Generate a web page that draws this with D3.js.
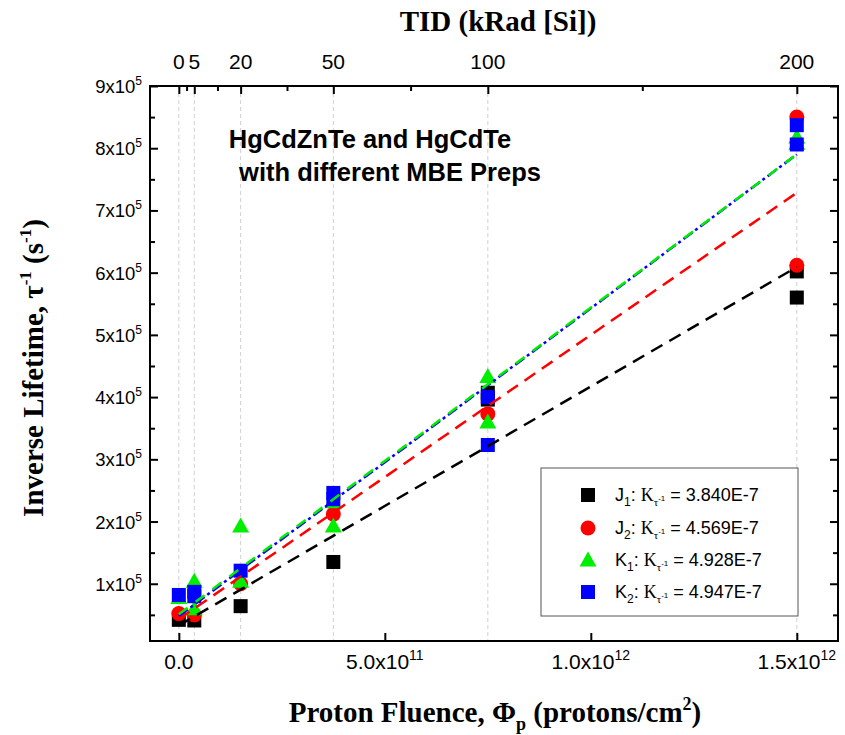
<!DOCTYPE html>
<html><head><meta charset="utf-8">
<script src="https://cdn.jsdelivr.net/npm/d3@7"></script>
<style>body{margin:0;background:#fff}</style>
</head><body><svg id="c" width="845" height="735"></svg>
<script>
// ---- data ----
const tidLevels = [0, 5, 20, 50, 100, 200];            // kRad[Si]
const tidMinor = [2.5, 12.5, 35, 75, 150];
const fluencePerKrad = 7.5e9;                            // protons/cm2 per kRad
const xTickValues = [0, 5e11, 1e12, 1.5e12];
const xTickLabels = [["0.0", ""], ["5.0x10", "11"], ["1.0x10", "12"], ["1.5x10", "12"]];
const yTickValues = [100000, 200000, 300000, 400000, 500000, 600000, 700000, 800000, 900000];
const yTickMant = ["1", "2", "3", "4", "5", "6", "7", "8", "9"];
const yMinorValues = [50000, 150000, 250000, 350000, 450000, 550000, 650000, 750000, 850000];

// points: [TID kRad, inverse lifetime s^-1]
const J1 = [[0, 42000], [5, 41000], [20, 64000], [50, 135000], [100, 407000], [100, 396000], [200, 602000], [200, 560000]];
const J2 = [[0, 52000], [5, 50000], [20, 100000], [50, 212000], [100, 373000], [200, 850000], [200, 612000]];
const K1 = [[0, 78000], [5, 104000], [5, 60000], [20, 193000], [20, 104000], [50, 232000], [50, 193000], [100, 433000], [100, 360000], [200, 818000], [200, 808000]];
const K2 = [[0, 82000], [5, 87000], [5, 80000], [20, 121000], [50, 246000], [50, 236000], [100, 400000], [100, 323000], [200, 837000], [200, 806000]];

const seriesNames = ["J", "J", "K", "K"];
const seriesSubs = ["1", "2", "1", "2"];
const slopes = [3.840e-7, 4.569e-7, 4.928e-7, 4.947e-7];
const slopeLabels = ["3.840E-7", "4.569E-7", "4.928E-7", "4.947E-7"];
const intercepts = [33000, 43000, 51000, 48000];
const colors = ["#000000", "#ff0000", "#00ee00", "#0000ff"];
const shapes = ["square", "circle", "triangle", "square"];
const fitRange = [0, 1.5e12];

// ---- layout ----
const svg = d3.select("#c");
const L = 150, R = 838, T = 86, B = 641;
const x = d3.scaleLinear().domain([-0.07e12, 1.6e12]).range([L, R]);
const y = d3.scaleLinear().domain([8000, 900000]).range([B, T]);
const xt = d3.scaleLinear().domain([0, 1]).range([x(0), x(fluencePerKrad)]);
const fx = v => x(v * fluencePerKrad);

// grid lines (TID)
svg.append("g").selectAll("line").data(tidLevels).join("line")
  .attr("x1", d => fx(d)).attr("x2", d => fx(d)).attr("y1", T).attr("y2", B)
  .attr("stroke", "#d0d0d0").attr("stroke-width", 1).attr("stroke-dasharray", "4,3");

// axes ticks (inward)
function ticks(axis, tr) {
  const g = svg.append("g").attr("transform", tr).call(axis);
  g.select(".domain").remove();
  g.selectAll("line").attr("stroke", "#000").attr("stroke-width", 2);
  g.selectAll("text").remove();
  return g;
}
ticks(d3.axisLeft(y).tickValues(yTickValues).tickSize(-8), `translate(${L},0)`);
ticks(d3.axisLeft(y).tickValues(yMinorValues).tickSize(-5), `translate(${L},0)`);
ticks(d3.axisRight(y).tickValues(yTickValues).tickSize(-8), `translate(${R},0)`);
ticks(d3.axisRight(y).tickValues(yMinorValues).tickSize(-5), `translate(${R},0)`);
ticks(d3.axisBottom(x).tickValues(xTickValues).tickSize(-8), `translate(0,${B})`);
ticks(d3.axisTop(xt).tickValues(tidLevels).tickSize(-8), `translate(0,${T})`);
ticks(d3.axisTop(xt).tickValues(tidMinor).tickSize(-5), `translate(0,${T})`);

// frame
svg.append("rect").attr("x", L).attr("y", T).attr("width", R - L).attr("height", B - T)
  .attr("fill", "none").attr("stroke", "#000").attr("stroke-width", 2);

// tick labels
const sans = "'Liberation Sans', Arial, sans-serif";
const narrow = "'Liberation Sans Narrow', 'Arial Narrow', 'Liberation Sans', sans-serif";
yTickValues.forEach((v, i) => {
  const t = svg.append("text").attr("x", L - 8).attr("y", y(v) + 7)
    .attr("text-anchor", "end").attr("font-family", sans).attr("font-size", 18.5);
  t.append("tspan").text(yTickMant[i] + "x10");
  t.append("tspan").attr("dy", -8).attr("font-size", 12).text("5");
});
xTickValues.forEach((v, i) => {
  const t = svg.append("text").attr("x", x(v)).attr("y", 669)
    .attr("text-anchor", "middle").attr("font-family", narrow).attr("font-size", 21);
  t.append("tspan").text(xTickLabels[i][0]);
  if (xTickLabels[i][1]) t.append("tspan").attr("dy", -9).attr("font-size", 14).text(xTickLabels[i][1]);
});
tidLevels.forEach(v => {
  svg.append("text").attr("x", fx(v)).attr("y", 69).attr("text-anchor", "middle")
    .attr("font-family", narrow).attr("font-size", 21).text(v);
});

// axis titles
const serif = "'Liberation Serif', 'Times New Roman', serif";
svg.append("text").attr("x", 498).attr("y", 31).attr("text-anchor", "middle")
  .attr("font-family", serif).attr("font-weight", "bold").attr("font-size", 29).text("TID (kRad [Si])");
const xl = svg.append("text").attr("x", 495).attr("y", 722).attr("text-anchor", "middle")
  .attr("font-family", serif).attr("font-weight", "bold").attr("font-size", 29);
xl.append("tspan").text("Proton Fluence, Φ");
xl.append("tspan").attr("dy", 8).attr("font-size", 18).text("p");
xl.append("tspan").attr("dy", -8).text(" (protons/cm");
xl.append("tspan").attr("dy", -12).attr("font-size", 18).text("2");
xl.append("tspan").attr("dy", 12).text(")");
const yl = svg.append("text").attr("transform", "translate(43,368) rotate(-90)").attr("text-anchor", "middle")
  .attr("font-family", serif).attr("font-weight", "bold").attr("font-size", 29);
yl.append("tspan").text("Inverse Lifetime, τ");
yl.append("tspan").attr("dy", -12).attr("font-size", 17).text("-1");
yl.append("tspan").attr("dy", 12).text(" (s");
yl.append("tspan").attr("dy", -12).attr("font-size", 17).text("-1");
yl.append("tspan").attr("dy", 12).text(")");

// annotation
svg.append("text").attr("x", 370).attr("y", 148).attr("text-anchor", "middle")
  .attr("font-family", sans).attr("font-weight", "bold").attr("font-size", 25.5).text("HgCdZnTe and HgCdTe");
svg.append("text").attr("x", 390).attr("y", 181).attr("text-anchor", "middle")
  .attr("font-family", sans).attr("font-weight", "bold").attr("font-size", 25.5).text("with different MBE Preps");

// markers
function marker(g, shape, color, cx, cy) {
  if (shape === "square") g.append("rect").attr("x", cx - 7).attr("y", cy - 7).attr("width", 14).attr("height", 14).attr("fill", color);
  else if (shape === "circle") g.append("circle").attr("cx", cx).attr("cy", cy).attr("r", 7.5).attr("fill", color);
  else g.append("path").attr("d", `M${cx},${cy - 8.5}L${cx + 8.5},${cy + 6.5}L${cx - 8.5},${cy + 6.5}Z`).attr("fill", color);
}
const allSeries = [J1, J2, K1, K2];
const pts = svg.append("g");
allSeries.forEach((s, i) => s.forEach(d => marker(pts, shapes[i], colors[i], fx(d[0]), y(d[1]))));

// fit lines
const dashes = ["13,8", "13,8", "11,10", "11,3.5,3,3.5"];
const order = [0, 1, 3, 2];
order.forEach(i => {
  svg.append("line")
    .attr("x1", x(fitRange[0])).attr("y1", y(intercepts[i] + slopes[i] * fitRange[0]))
    .attr("x2", x(fitRange[1])).attr("y2", y(intercepts[i] + slopes[i] * fitRange[1]))
    .attr("stroke", colors[i]).attr("stroke-width", 2.5).attr("stroke-dasharray", dashes[i]);
});

// legend
const lg = svg.append("g");
lg.append("rect").attr("x", 541).attr("y", 468).attr("width", 257).attr("height", 148)
  .attr("fill", "#fff").attr("stroke", "#555").attr("stroke-width", 1);
const rowY = [495, 528, 560, 592];
seriesNames.forEach((n, i) => {
  marker(lg, shapes[i], colors[i], 588, rowY[i]);
  const t = lg.append("text").attr("x", 615).attr("y", rowY[i] + 6).attr("font-family", sans).attr("font-size", 18);
  t.append("tspan").text(n);
  t.append("tspan").attr("dy", 5).attr("font-size", 12).text(seriesSubs[i]);
  t.append("tspan").attr("dy", -5).text(": ");
  t.append("tspan").attr("font-family", serif).text("K");
  t.append("tspan").attr("dy", 5).attr("font-size", 11).attr("font-family", serif).text("τ");
  t.append("tspan").attr("dy", -5).attr("font-size", 8).text("-1");
  t.append("tspan").attr("dy", 0).text(" = " + slopeLabels[i]);
});
</script></body></html>
